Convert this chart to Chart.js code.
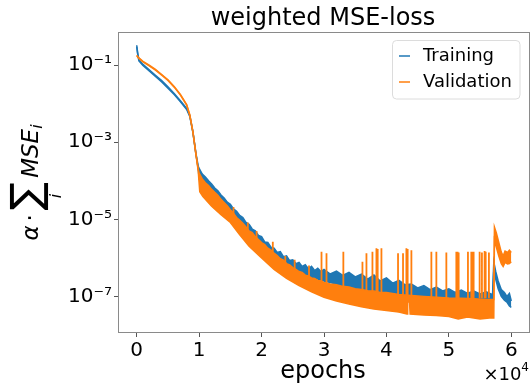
<!DOCTYPE html>
<html>
<head>
<meta charset="utf-8">
<script src="https://cdn.jsdelivr.net/npm/chart.js@4.4.1/dist/chart.umd.min.js"></script>
<style>
  html, body { margin: 0; padding: 0; background: #fff; }
  canvas { display: block; }
</style>
</head>
<body>
<canvas id="lossChart" width="530" height="392"></canvas>
<script>
// ---- values (log y axis) ----
// the noisy curves are kept as an upper and a lower edge per series
const trainEpochs = [0, 150, 350, 1000, 2000, 3000, 4000, 5000, 6000, 7000, 8000, 8500, 9000, 9500, 9850,
  10000, 10500, 11000, 11500, 12000, 12500, 13000, 13500, 14000, 14500, 15000, 15500, 16000, 16500, 17000,
  17500, 18000, 18500, 19000, 19500, 20000, 20500, 21000, 21500, 22000, 22500, 23000, 23500, 24000, 24500,
  25000, 25500, 26000, 26500, 27000, 27500, 28000, 28500, 29000, 29500, 30000, 31000, 32000, 33000, 34000,
  35000, 36000, 37000, 38000, 39000, 40000, 41000, 42000, 43000, 44000, 45000, 46000, 47000, 48000, 49000,
  50000, 51000, 52000, 53000, 54000, 55000, 56000, 57000, 57200, 57500, 57900, 58400, 58900, 59300, 59700, 60000];
const trainHigh = [3.3e-1, 2.1e-1, 1.4e-1, 1.05e-1, 7.6e-2, 5.5e-2, 4.0e-2, 2.75e-2, 1.86e-2, 1.2e-2, 7.6e-3, 5.0e-3, 1.9e-3, 5.0e-4, 2.4e-4,
  2.1e-4, 1.5e-4, 1.26e-4, 1.0e-4, 8.3e-5, 6.5e-5, 5.5e-5, 4.3e-5, 3.6e-5, 2.8e-5, 2.45e-5, 1.86e-5, 1.62e-5, 1.26e-5, 1.12e-5,
  8.3e-6, 7.4e-6, 5.6e-6, 5.0e-6, 3.8e-6, 3.55e-6, 2.6e-6, 2.5e-6, 1.9e-6, 1.8e-6, 1.38e-6, 1.45e-6, 1.07e-6, 1.12e-6, 8.5e-7,
  8.9e-7, 7.1e-7, 7.6e-7, 6.0e-7, 6.6e-7, 5.2e-7, 6.0e-7, 4.7e-7, 5.4e-7, 4.4e-7, 5.0e-7, 3.8e-7, 4.5e-7, 3.5e-7, 4.2e-7,
  3.2e-7, 3.8e-7, 2.8e-7, 3.6e-7, 2.5e-7, 3.0e-7, 2.2e-7, 2.6e-7, 2.0e-7, 2.1e-7, 1.66e-7, 1.9e-7, 1.5e-7, 1.74e-7, 1.38e-7,
  1.58e-7, 1.26e-7, 1.45e-7, 1.2e-7, 1.38e-7, 1.15e-7, 1.32e-7, 1.1e-7, 7.9e-7, 4.5e-7, 2.5e-7, 1.5e-7, 1.26e-7, 1.0e-7, 1.2e-7, 7.6e-8];

const trainLowEpochs = [0, 150, 350, 1000, 2000, 3000, 4000, 5000, 6000, 7000, 8000, 8500, 9000, 9500, 9850,
  10000, 12000, 15000, 20000, 25000, 30000, 35000, 40000, 45000, 50000, 57000, 57200, 57500, 57900, 58400, 58900, 59300, 59700, 60000];
const trainLow = [3.0e-1, 1.95e-1, 1.3e-1, 9.8e-2, 7.1e-2, 5.1e-2, 3.7e-2, 2.55e-2, 1.74e-2, 1.12e-2, 7.1e-3, 4.7e-3, 1.78e-3, 4.7e-4, 2.1e-4,
  1.12e-4, 5.0e-5, 1.58e-5, 2.0e-6, 4.5e-7, 2.5e-7, 1.58e-7, 1.12e-7, 8.9e-8, 7.9e-8, 7.1e-8, 5.0e-7, 2.8e-7, 1.58e-7, 1.0e-7, 7.9e-8, 7.1e-8, 5.6e-8, 5.2e-8];

const valEpochs = [0, 300, 1000, 2000, 3000, 4000, 5000, 6000, 7000, 8000, 8500, 9000, 9500, 9850,
  10000, 10500, 11000, 11500, 12000, 12500, 13000, 13500, 14000, 14500, 15000, 15500, 16000, 16500, 17000,
  17500, 18000, 18500, 19000, 19500, 20000, 20500, 21000, 21500, 22000, 22500, 23000, 23500, 24000, 24500,
  25000, 25500, 26000, 26500, 27000, 27500, 28000, 28500, 29000, 29500, 30000, 31000, 32000, 33000, 34000,
  35000, 36000, 37000, 38000, 39000, 40000, 42000, 44000, 46000, 48000, 50000, 52000, 54000, 56000, 57200,
  57300, 57600, 58000, 58400, 58700, 59000, 59400, 59700, 60000];
const valHigh = [1.82e-1, 1.58e-1, 1.26e-1, 1.0e-1, 7.8e-2, 5.75e-2, 4.2e-2, 2.8e-2, 1.74e-2, 9.5e-3, 5.2e-3, 1.9e-3, 4.8e-4, 2.0e-4,
  1.58e-4, 1.12e-4, 8.9e-5, 7.6e-5, 6.0e-5, 5.0e-5, 4.2e-5, 3.3e-5, 2.75e-5, 2.24e-5, 1.78e-5, 1.45e-5, 1.12e-5, 9.5e-6, 7.9e-6,
  6.3e-6, 5.0e-6, 4.5e-6, 3.55e-6, 3.0e-6, 2.5e-6, 2.2e-6, 1.78e-6, 1.58e-6, 1.32e-6, 1.15e-6, 9.5e-7, 8.7e-7, 7.1e-7, 6.6e-7,
  5.6e-7, 5.0e-7, 4.4e-7, 4.2e-7, 3.55e-7, 3.4e-7, 3.0e-7, 2.9e-7, 2.6e-7, 2.5e-7, 2.3e-7, 2.1e-7, 2.0e-7, 1.82e-7, 1.74e-7,
  1.58e-7, 1.5e-7, 1.41e-7, 1.38e-7, 1.26e-7, 1.26e-7, 1.12e-7, 1.05e-7, 1.0e-7, 9.5e-8, 9.1e-8, 8.9e-8, 8.7e-8, 8.3e-8, 8.3e-8,
  6.3e-6, 4.5e-6, 2.5e-6, 1.41e-6, 1.12e-6, 1.5e-6, 1.38e-6, 1.58e-6, 1.38e-6];

const valLowEpochs = [0, 300, 1000, 2000, 3000, 4000, 5000, 6000, 7000, 8000, 8500, 9000, 9500, 9850,
  10100, 10600, 12000, 13500, 15000, 16500, 18000, 20000, 22000, 24000, 26000, 28000, 30000, 32000, 34000,
  36000, 38000, 40000, 42000, 43300, 43400, 43700, 43800, 46000, 48000, 50000, 51500, 53000, 55000, 56500, 57200,
  57300, 57600, 58000, 58400, 58700, 59000, 59400, 59700, 60000];
const valLow = [1.76e-1, 1.53e-1, 1.22e-1, 9.7e-2, 7.5e-2, 5.55e-2, 4.05e-2, 2.7e-2, 1.68e-2, 9.2e-3, 5.0e-3, 1.83e-3, 4.6e-4, 1.8e-4,
  5.2e-5, 3.9e-5, 2.2e-5, 1.32e-5, 8.3e-6, 4.0e-6, 2.0e-6, 1.0e-6, 5.0e-7, 2.95e-7, 1.9e-7, 1.32e-7, 9.5e-8, 7.6e-8, 6.3e-8,
  5.4e-8, 4.7e-8, 4.3e-8, 3.9e-8, 3.5e-8, 7.1e-8, 7.1e-8, 3.5e-8, 3.3e-8, 3.2e-8, 3.0e-8, 2.6e-8, 2.9e-8, 2.6e-8, 2.75e-8, 2.75e-8,
  2.8e-6, 1.9e-6, 1.12e-6, 7.1e-7, 6.0e-7, 7.6e-7, 6.9e-7, 7.1e-7, 7.9e-7];

// validation spikes: epoch, top of the spike, foot inside the band
const spikeEpochs = [15500, 17800, 19200, 21800, 23800, 25300, 27600, 29600, 30400, 33100, 36160, 36800, 37760, 38400, 38600,
  39200, 41860, 42660, 43200, 43400, 44000, 47200, 48000, 49600, 51200, 51400, 51570, 53060, 53600, 53800, 53970,
  54930, 55300, 55730, 55900, 56420];
const spikeTop = [2.1e-5, 8.3e-6, 5.0e-6, 2.6e-6, 1.12e-6, 8.9e-7, 6.3e-7, 1.45e-6, 1.32e-6, 1.45e-6, 7.9e-7, 1.32e-6, 1.45e-6, 1.78e-6, 1.7e-6,
  1.78e-6, 1.32e-6, 1.32e-6, 1.78e-6, 1.7e-6, 1.58e-6, 1.45e-6, 1.45e-6, 1.38e-6, 1.45e-6, 1.45e-6, 1.38e-6, 1.45e-6, 1.45e-6, 1.45e-6, 1.45e-6,
  1.45e-6, 1.38e-6, 1.51e-6, 1.45e-6, 1.38e-6];
const spikeBase = [1.26e-5, 4.5e-6, 2.8e-6, 1.12e-6, 6.3e-7, 4.5e-7, 2.8e-7, 2.2e-7, 2.0e-7, 1.58e-7, 1.41e-7, 1.26e-7, 1.26e-7, 1.26e-7, 1.26e-7,
  1.12e-7, 1.0e-7, 1.0e-7, 1.0e-7, 1.0e-7, 1.0e-7, 8.9e-8, 8.9e-8, 8.9e-8, 8.9e-8, 8.9e-8, 8.9e-8, 8.9e-8, 8.9e-8, 8.9e-8, 8.9e-8,
  8.9e-8, 8.9e-8, 8.9e-8, 8.9e-8, 8.9e-8];

const xTicks = [0, 10000, 20000, 30000, 40000, 50000, 60000];
const yTicks = [1e-7, 1e-5, 1e-3, 1e-1];
const yTickLabels = ['10\u207B\u2077', '10\u207B\u2075', '10\u207B\u00B3', '10\u207B\u00B9'];

const BLUE = '#1f77b4';
const ORANGE = '#ff7f0e';
const FONT = '"DejaVu Sans", sans-serif';

const pts = (xs, ys) => xs.map((x, i) => ({ x: x, y: ys[i] }));
const spikePts = spikeEpochs.flatMap((e, i) => [
  { x: e, y: spikeBase[i] }, { x: e, y: spikeTop[i] }, { x: e, y: null }
]);

// ---- frame, title, axis texts, legend ----
const decorations = {
  id: 'decorations',
  afterDraw(chart) {
    const { ctx, chartArea: a } = chart;
    ctx.save();
    ctx.strokeStyle = '#8a8a8a';
    ctx.lineWidth = 1;
    ctx.strokeRect(a.left + 0.5, a.top + 0.5, a.right - a.left - 1, a.bottom - a.top - 1);

    ctx.fillStyle = '#000';
    ctx.textAlign = 'center';
    ctx.textBaseline = 'alphabetic';
    ctx.font = '24px ' + FONT;
    ctx.fillText('weighted MSE-loss', 323, 25);
    ctx.fillText('epochs', 323, 378);

    // x offset text
    ctx.textAlign = 'left';
    ctx.font = '18px ' + FONT;
    const w = ctx.measureText('\u00D710').width;
    ctx.font = '12px ' + FONT;
    const w4 = ctx.measureText('4').width;
    const x0 = 529 - w - w4;
    ctx.font = '18px ' + FONT;
    ctx.fillText('\u00D710', x0, 380);
    ctx.font = '12px ' + FONT;
    ctx.fillText('4', x0 + w, 371);

    // y label: alpha . sum_i MSE_i
    ctx.translate(38, (a.top + a.bottom) / 2);
    ctx.rotate(-Math.PI / 2);
    const it = 'italic 23px ' + FONT, sub = 'italic 16px ' + FONT, big = '42px ' + FONT, rm = '23px ' + FONT;
    ctx.font = it; const wa = ctx.measureText('\u03B1').width;
    ctx.font = rm; const wd = ctx.measureText('\u00B7').width;
    ctx.font = big; const ws = ctx.measureText('\u2211').width;
    ctx.font = it; const wm = ctx.measureText('MSE').width;
    ctx.font = sub; const wi = ctx.measureText('i').width;
    const gap = 4;
    const total = wa + gap + wd + gap + ws + gap + wm + wi;
    let u = -total / 2;
    ctx.textAlign = 'left';
    ctx.font = it; ctx.fillText('\u03B1', u, 0); u += wa + gap;
    ctx.font = rm; ctx.fillText('\u00B7', u, 0); u += wd + gap;
    ctx.font = big; ctx.fillText('\u2211', u, 2);
    ctx.font = sub; ctx.fillText('i', u + ws / 2 - wi / 2, 23); u += ws + gap;
    ctx.font = it; ctx.fillText('MSE', u, 0); u += wm;
    ctx.font = sub; ctx.fillText('i', u, 4);
    ctx.restore();

    // legend
    ctx.save();
    const lx = 392.5, ly = 40.5, lw = 127.5, lh = 58.5;
    ctx.beginPath();
    ctx.roundRect(lx, ly, lw, lh, 4);
    ctx.fillStyle = 'rgba(255,255,255,0.8)';
    ctx.fill();
    ctx.strokeStyle = '#dcdcdc';
    ctx.stroke();
    const entries = [['Training', BLUE, 56], ['Validation', ORANGE, 82]];
    ctx.font = '18px ' + FONT;
    ctx.textBaseline = 'middle';
    ctx.textAlign = 'left';
    entries.forEach(([label, color, y]) => {
      ctx.strokeStyle = color;
      ctx.lineWidth = 1.5;
      ctx.beginPath();
      ctx.moveTo(399, y);
      ctx.lineTo(410, y);
      ctx.stroke();
      ctx.fillStyle = '#000';
      ctx.fillText(label, 423, y);
    });
    ctx.restore();
  }
};

const line = (label, data, color, extra) => Object.assign({
  label: label,
  data: data,
  borderColor: color,
  backgroundColor: color,
  borderWidth: 1.5,
  pointRadius: 0,
  tension: 0,
  fill: false
}, extra || {});

new Chart(document.getElementById('lossChart'), {
  type: 'line',
  data: {
    datasets: [
      line('Validation', pts(valEpochs, valHigh), ORANGE, { fill: { target: 1 } }),
      line('Validation low', pts(valLowEpochs, valLow), ORANGE),
      line('Validation spikes', spikePts, ORANGE, { borderWidth: 1.8, spanGaps: false }),
      line('Training', pts(trainEpochs, trainHigh), BLUE, { fill: { target: 4 } }),
      line('Training low', pts(trainLowEpochs, trainLow), BLUE)
    ]
  },
  options: {
    responsive: false,
    animation: false,
    devicePixelRatio: 1,
    layout: { padding: { top: 32, right: 0, left: 0, bottom: 0 } },
    plugins: { legend: { display: false }, title: { display: false }, tooltip: { enabled: false } },
    scales: {
      x: {
        type: 'linear',
        min: -3000,
        max: 63000,
        afterBuildTicks: s => { s.ticks = xTicks.map(v => ({ value: v })); },
        afterFit: s => { s.height = 59; },
        ticks: { color: '#000', font: { family: FONT, size: 20 }, padding: 2, maxRotation: 0,
          callback: v => String(v / 10000) },
        grid: { drawOnChartArea: false, tickLength: 4, color: '#555' },
        border: { display: false }
      },
      y: {
        type: 'logarithmic',
        min: 1.12e-8,
        max: 0.73,
        afterBuildTicks: s => { s.ticks = yTicks.map(v => ({ value: v })); },
        afterFit: s => { s.width = 118; },
        ticks: { color: '#000', font: { family: FONT, size: 20 }, padding: 2,
          callback: v => yTickLabels[yTicks.indexOf(v)] },
        grid: { drawOnChartArea: false, tickLength: 4, color: '#555' },
        border: { display: false }
      }
    }
  },
  plugins: [decorations]
});
</script>
</body>
</html>
